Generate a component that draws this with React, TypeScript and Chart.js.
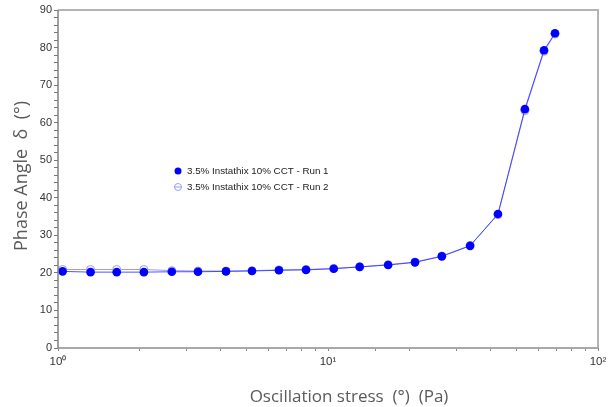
import React, { useEffect, useRef } from "react";
import { Chart, registerables } from "chart.js";

Chart.register(...registerables);

const stressRun1 = [1.04, 1.32, 1.65, 2.08, 2.64, 3.3, 4.19, 5.23, 6.58, 8.29, 10.5, 13.1, 16.7, 21.0, 26.4, 33.6, 42.6, 53.6, 63.1, 69.3];
const phaseRun1 = [20.4, 20.2, 20.2, 20.2, 20.3, 20.3, 20.4, 20.5, 20.7, 20.8, 21.1, 21.6, 22.1, 22.8, 24.4, 27.2, 35.7, 63.6, 79.3, 83.8];
const stressRun2 = [1.04, 1.32, 1.65, 2.08, 2.64, 3.3, 4.19, 5.23, 6.58, 8.29, 10.5, 13.1, 16.7, 21.0, 26.4, 33.6, 42.6, 53.6, 63.1, 69.3];
const phaseRun2 = [20.9, 20.9, 20.9, 20.9, 20.6, 20.5, 20.5, 20.6, 20.8, 20.9, 21.2, 21.6, 22.2, 22.9, 24.5, 27.3, 35.5, 63.2, 79.0, 83.6];
const seriesLabels = ["3.5% Instathix 10% CCT - Run 1", "3.5% Instathix 10% CCT - Run 2"];
const xTitle = "Oscillation stress  (°)  (Pa)";
const yTitle = "Phase Angle  δ  (°)";
const decadeLabels: Record<number, string> = { 1: "10⁰", 10: "10¹", 100: "10²" };

const frameAndText = {
  id: "frameAndText",
  afterDraw(chart: any) {
    const { ctx, chartArea: a } = chart;
    ctx.save();
    // frame
    ctx.strokeStyle = "#b4b4b4";
    ctx.lineWidth = 2;
    ctx.beginPath();
    ctx.moveTo(a.left, a.top);
    ctx.lineTo(a.right, a.top);
    ctx.lineTo(a.right, a.bottom);
    ctx.stroke();
    ctx.strokeStyle = "#a8a8a8";
    ctx.beginPath();
    ctx.moveTo(a.left, a.bottom);
    ctx.lineTo(a.right, a.bottom);
    ctx.stroke();
    ctx.strokeStyle = "#808080";
    ctx.lineWidth = 1.5;
    ctx.beginPath();
    ctx.moveTo(a.left, a.top);
    ctx.lineTo(a.left, a.bottom);
    ctx.stroke();

    // legend
    const lx = a.left + 120;
    const ly = a.top + 161;
    ctx.font = "9.8px 'Liberation Sans', Arial, sans-serif";
    ctx.fillStyle = "#222";
    ctx.textBaseline = "middle";
    ctx.textAlign = "left";
    // run1
    ctx.beginPath();
    ctx.arc(lx, ly, 3.5, 0, Math.PI * 2);
    ctx.fillStyle = "#0000ff";
    ctx.fill();
    ctx.fillStyle = "#222";
    ctx.fillText(seriesLabels[0], lx + 9, ly);
    // run2
    const ly2 = ly + 16;
    ctx.strokeStyle = "#9a9aff";
    ctx.lineWidth = 1;
    ctx.beginPath();
    ctx.arc(lx, ly2, 3.5, 0, Math.PI * 2);
    ctx.stroke();
    ctx.beginPath();
    ctx.moveTo(lx - 4, ly2);
    ctx.lineTo(lx + 4, ly2);
    ctx.stroke();
    ctx.fillText(seriesLabels[1], lx + 9, ly2);

    // axis titles
    ctx.fillStyle = "#5a5a5a";
    ctx.font = "17px 'Open Sans', sans-serif";
    ctx.textAlign = "center";
    ctx.textBaseline = "middle";
    ctx.fillText(xTitle, a.left + 291, 397);
    ctx.translate(22, a.top + 166);
    ctx.rotate(-Math.PI / 2);
    ctx.font = "18px 'Open Sans', sans-serif";
    ctx.fillText(yTitle, 0, 0);
    ctx.restore();
  },
};

export default function App() {
  const ref = useRef<HTMLCanvasElement | null>(null);
  useEffect(() => {
    if (!ref.current) return;
    const chart = new Chart(ref.current, {
      type: "line",
      data: {
        datasets: [
          {
            label: seriesLabels[0],
            data: stressRun1.map((x, i) => ({ x, y: phaseRun1[i] })),
            borderColor: "rgba(40,40,255,0.8)",
            borderWidth: 1,
            pointRadius: 4.3,
            pointBackgroundColor: "#0000ff",
            pointBorderColor: "#0000ff",
            pointBorderWidth: 0,
            tension: 0,
            order: 0,
          },
          {
            label: seriesLabels[1],
            data: stressRun2.map((x, i) => ({ x, y: phaseRun2[i] })),
            borderColor: "#9a9aff",
            borderWidth: 1,
            pointRadius: 4,
            pointBackgroundColor: "#ffffff",
            pointBorderColor: "#9a9aff",
            pointBorderWidth: 1,
            tension: 0,
            order: 1,
          },
        ],
      },
      options: {
        responsive: false,
        animation: false,
        layout: { padding: { top: 10, right: 13, left: 0, bottom: 0 } },
        plugins: { legend: { display: false }, tooltip: { enabled: false } },
        scales: {
          x: {
            type: "logarithmic",
            min: 1,
            max: 100,
            afterFit: (s: any) => {
              s.height = 59;
            },
            border: { display: false },
            grid: { drawOnChartArea: false, drawTicks: true, tickLength: 3, color: "#888" },
            ticks: {
              autoSkip: false,
              maxRotation: 0,
              padding: 4,
              color: "#333",
              font: { family: "'Liberation Sans', Arial, sans-serif", size: 11.5 },
              callback: (v: any) => decadeLabels[Number(v)] ?? "",
            },
          },
          y: {
            type: "linear",
            min: 0,
            max: 90,
            afterFit: (s: any) => {
              s.width = 58;
            },
            border: { display: false },
            grid: { drawOnChartArea: false, drawTicks: true, tickLength: 4, color: "#777" },
            ticks: {
              stepSize: 2,
              autoSkip: false,
              padding: 2,
              color: "#333",
              font: { family: "'Liberation Sans', Arial, sans-serif", size: 11 },
              callback: (v: any) => (Number(v) % 10 === 0 ? String(v) : ""),
            },
          },
        },
      },
      plugins: [frameAndText],
    });
    return () => chart.destroy();
  }, []);
  return (
    <div style={{ position: "absolute", left: 0, top: 0, width: 611, height: 407, background: "#fff" }}>
      <canvas ref={ref} width={611} height={407} />
    </div>
  );
}
